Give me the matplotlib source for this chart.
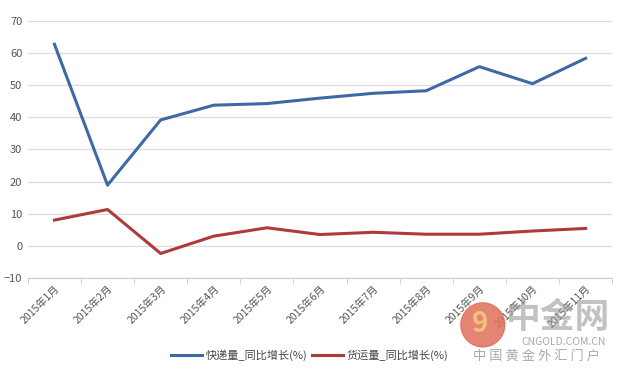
import matplotlib.pyplot as plt
from matplotlib.patches import Ellipse

plt.rcParams['font.family'] = ['Noto Sans CJK SC', 'DejaVu Sans']

months = ['2015年1月', '2015年2月', '2015年3月', '2015年4月', '2015年5月', '2015年6月',
          '2015年7月', '2015年8月', '2015年9月', '2015年10月', '2015年11月']
express = [62.8, 18.9, 39.2, 43.8, 44.3, 46.0, 47.5, 48.3, 55.8, 50.5, 58.4]
freight = [8.0, 11.3, -2.4, 3.0, 5.6, 3.5, 4.2, 3.6, 3.6, 4.6, 5.4]
series_names = ['快递量_同比增长(%)', '货运量_同比增长(%)']

fig = plt.figure(figsize=(6.19, 3.70), dpi=100)
ax = fig.add_axes([0.045, 0.249, 0.944, 0.694])

x = range(len(months))
ax.plot(x, express, color='#3F69A5', lw=2.2, label=series_names[0])
ax.plot(x, freight, color='#AE3B3B', lw=2.2, label=series_names[1])

ax.set_ylim(-10, 70)
ax.set_yticks(range(-10, 71, 10))
ax.set_xlim(-0.5, len(months) - 0.5)
ax.set_xticks(list(x))
ax.set_xticks([i - 0.5 for i in range(len(months) + 1)], minor=True)
ax.set_xticklabels(months)
ax.tick_params(axis='x', which='major', length=0, pad=4, labelsize=7.5, colors='#555555')
ax.tick_params(axis='x', which='minor', length=4, color='#cccccc')
ax.tick_params(axis='y', length=0, labelsize=8, colors='#555555', pad=4)
plt.setp(ax.get_xticklabels(), rotation=45, ha='right', rotation_mode='anchor')

ax.grid(axis='y', color='#dddddd', lw=0.9)
ax.set_axisbelow(True)
for s in ['top', 'right', 'left']:
    ax.spines[s].set_visible(False)
ax.spines['bottom'].set_color('#cccccc')

ax.legend(loc='center', bbox_to_anchor=(0.482, -0.30), ncol=2, frameon=False,
          fontsize=8, handlelength=2.8, columnspacing=0.4, handletextpad=0.3,
          labelcolor='#444444')

# watermark (semi-transparent, sits over the last tick labels)
fig.patches.append(Ellipse((0.780, 0.122), 0.071, 0.119, transform=fig.transFigure,
                           color='#E0705A', alpha=0.85, zorder=5))
fig.text(0.775, 0.125, '9', fontsize=20, fontweight='bold', color='#F2C07A',
         ha='center', va='center', zorder=6)
fig.text(0.901, 0.141, '中金网', fontsize=25, fontweight='bold', color='#9a9a9a',
         alpha=0.6, ha='center', va='center')
fig.text(0.910, 0.076, 'CNGOLD.COM.CN', fontsize=7.5, color='#aaaaaa', ha='center', va='center')
fig.text(0.867, 0.038, '中 国 黄 金 外 汇 门 户', fontsize=9.5, color='#aaaaaa',
         ha='center', va='center')

fig.savefig('out.png', dpi=100)
